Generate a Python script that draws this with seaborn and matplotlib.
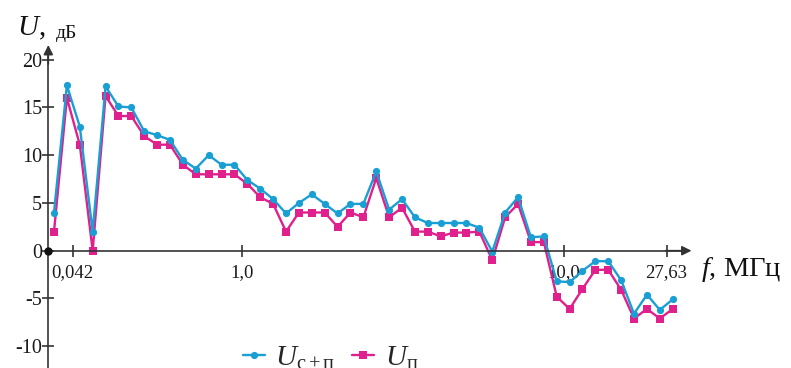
import numpy as np
import pandas as pd
import matplotlib
matplotlib.use("Agg")
import matplotlib.pyplot as plt
import seaborn as sns
from matplotlib.lines import Line2D

# ---------------- data ----------------
u_sp = [4.0, 17.3, 13.0, 2.0, 17.2, 15.1, 15.0, 12.5, 12.1, 11.6,
        9.5, 8.6, 10.0, 9.0, 9.0, 7.4, 6.5, 5.4, 3.9, 5.0,
        5.9, 4.9, 3.9, 4.9, 4.9, 8.3, 4.3, 5.4, 3.5, 2.9,
        2.9, 2.9, 2.9, 2.4, -0.1, 4.0, 5.6, 1.4, 1.5, -3.2,
        -3.3, -2.1, -1.1, -1.1, -3.1, -6.6, -4.6, -6.2, -5.1]
u_p = [2.0, 16.0, 11.1, 0.0, 16.2, 14.1, 14.1, 12.0, 11.1, 11.1,
       9.0, 8.0, 8.0, 8.0, 8.0, 7.0, 5.6, 4.9, 2.0, 4.0,
       4.0, 4.0, 2.5, 4.0, 3.5, 7.6, 3.5, 4.5, 2.0, 2.0,
       1.5, 1.9, 1.9, 2.0, -1.0, 3.5, 4.9, 0.9, 0.9, -4.8,
       -6.1, -4.0, -2.0, -2.0, -4.1, -7.1, -6.1, -7.1, -6.1]
point_index = list(range(len(u_sp)))

xtick_pos = [1.45, 14.56, 39.54, 47.52]
xtick_labels = ["0,042", "1,0", "10,0", "27,63"]
ytick_vals = [-10, -5, 0, 5, 10, 15, 20]
ytick_labels = ["-10", "-5", "0", "5", "10", "15", "20"]

S_SP = "Uсп"
S_P = "Uп"
BLUE = "#1a9fd4"
MAG = "#e0208c"
AX_COL = "#333333"

# ---------------- style ----------------
sns.set_theme(style="white")
plt.rcParams["font.family"] = ["Liberation Serif", "DejaVu Serif"]
plt.rcParams["mathtext.fontset"] = "custom"
plt.rcParams["mathtext.rm"] = "Liberation Serif"
plt.rcParams["mathtext.it"] = "Liberation Serif:italic"
plt.rcParams["axes.unicode_minus"] = False

df = pd.DataFrame({
    "i": point_index + point_index,
    "U": u_p + u_sp,
    "series": [S_P] * len(u_p) + [S_SP] * len(u_sp),
})

fig = plt.figure(figsize=(7.91, 3.68), dpi=100)
ax = fig.add_axes([0, 0, 1, 1])
ax.set_facecolor("white")

sns.lineplot(data=df, x="i", y="U", hue="series", style="series",
             hue_order=[S_P, S_SP], style_order=[S_P, S_SP],
             palette={S_P: MAG, S_SP: BLUE},
             markers={S_P: "s", S_SP: "o"}, dashes=False,
             markersize=5.2, markeredgewidth=0, linewidth=1.7,
             sort=False, legend=False, ax=ax)

# pixel-matched limits
px0, dpx = 54.0, 12.89
y0px, dpy = 250.7, 9.55
ax.set_xlim((0 - px0) / dpx, (791 - px0) / dpx)
ax.set_ylim((y0px - 368) / dpy, y0px / dpy)

yaxis_x = (48.3 - px0) / dpx
xaxis_end = (691.5 - px0) / dpx
yaxis_top = (y0px - 45) / dpy

for s in ["top", "right"]:
    ax.spines[s].set_visible(False)
ax.spines["left"].set_position(("data", yaxis_x))
ax.spines["bottom"].set_position(("data", 0))
ax.spines["left"].set_bounds(-13, yaxis_top - 0.5)
ax.spines["bottom"].set_bounds(yaxis_x, xaxis_end - 0.5)
for s in ["left", "bottom"]:
    ax.spines[s].set_color(AX_COL)
    ax.spines[s].set_linewidth(1.2)

ap = dict(arrowstyle="-|>", color=AX_COL, lw=1.2, mutation_scale=14,
          shrinkA=0, shrinkB=0)
ax.annotate("", xy=(yaxis_x, yaxis_top), xytext=(yaxis_x, yaxis_top - 2), arrowprops=ap)
ax.annotate("", xy=(xaxis_end, 0), xytext=(xaxis_end - 2, 0), arrowprops=ap)
ax.plot([yaxis_x], [0], "o", color="#111111", ms=5, zorder=5)

ax.set_xticks(xtick_pos)
ax.set_xticklabels(xtick_labels)
ax.set_yticks(ytick_vals)
ax.set_yticklabels(ytick_labels)
ax.tick_params(axis="both", direction="inout", length=9, width=1.2,
               color=AX_COL, labelcolor="#1a1a1a",
               bottom=True, left=True)
ax.tick_params(axis="x", pad=5, labelsize=13.5)
ax.tick_params(axis="y", pad=0, labelsize=14.5)
ax.set_xlabel("")
ax.set_ylabel("")
ax.grid(False)

# axis titles
fig.text(17 / 791, 1 - 35 / 368, "$U$,", fontsize=21, va="baseline", ha="left", color="#111111")
fig.text(56 / 791, 1 - 37.5 / 368, "дБ", fontsize=14, va="baseline", ha="left", color="#111111")
fig.text(701 / 791, 1 - 276 / 368, "$f$, МГц", fontsize=20.5, va="baseline", ha="left", color="#111111")

# legend
handles = [Line2D([], [], color=BLUE, marker="o", lw=1.7, ms=5.2, mew=0),
           Line2D([], [], color=MAG, marker="s", lw=1.7, ms=5.2, mew=0)]
labels = [r"$U_{\mathrm{с}+\mathrm{п}}$", r"$U_{\mathrm{п}}$"]
fig.legend(handles, labels, loc="center left",
           bbox_to_anchor=(243 / 791, 1 - 358 / 368), ncol=2, frameon=False,
           fontsize=21, handlelength=0.75, handletextpad=0.35,
           columnspacing=0.6, borderpad=0, borderaxespad=0)

fig.savefig("out.png", dpi=100, facecolor="white")
